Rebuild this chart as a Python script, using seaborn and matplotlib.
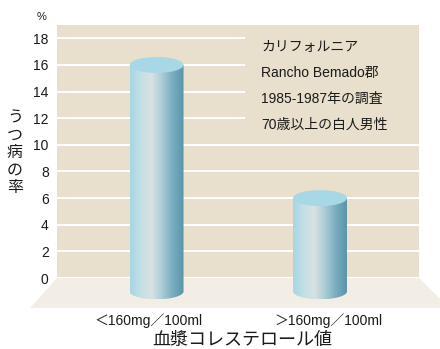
import numpy as np
import matplotlib
matplotlib.use("Agg")
import matplotlib.pyplot as plt
from matplotlib.patches import Polygon, Ellipse, Rectangle
from matplotlib.colors import LinearSegmentedColormap
import seaborn as sns

# ── data ──
categories = ["＜160mg／100ml", "＞160mg／100ml"]
rates = [16, 6]
y_ticks = list(range(0, 19, 2))
note_lines = ["カリフォルニア", "Rancho Bemado郡", "1985-1987年の調査", "70歳以上の白人男性"]

# ── style ──
WALL = "#e8dfcc"
FLOOR = "#f2eee6"
TOP = "#a8d8e6"
cyl_cmap = LinearSegmentedColormap.from_list(
    "cyl", ["#a6d6e4", "#c3dfe6", "#d8e2e3", "#a9cbd5", "#78acbf", "#5a94a9"])

sns.set_theme(style="white")
plt.rcParams["font.family"] = ["Liberation Sans", "Noto Sans CJK JP", "DejaVu Sans"]

fig = plt.figure(figsize=(4.4, 3.49), dpi=100)
ax = fig.add_axes([57 / 440, 41 / 349, 383 / 440, 283 / 349])
sns.barplot(x=categories, y=rates, width=0.33, color=TOP, ax=ax)
bars = [p for c in ax.containers for p in c]

x_left, x_right, y_top, y_bot = -0.609, 1.606, 19, -2.25
ax.set_xlim(x_left, 1.734)
ax.set_ylim(y_bot, y_top)

# back wall + floor
ax.add_patch(Rectangle((x_left, 0), x_right - x_left, y_top, facecolor=WALL,
                       edgecolor="none", zorder=0))
ax.add_patch(Polygon([(x_left, 0), (x_right, 0), (1.79, y_bot), (-0.774, y_bot)],
                     closed=True, facecolor=FLOOR, edgecolor="none", zorder=0.6,
                     clip_on=False))
ax.hlines(y_ticks, x_left, x_right, color="white", lw=1.5, zorder=0.5)
# box behind the note hides the grid
ax.add_patch(Rectangle((0.54, 11), x_right - 0.54, y_top - 11, facecolor=WALL,
                       edgecolor="none", zorder=0.7))

# turn the bars into cylinders
grad = np.linspace(0, 1, 256).reshape(1, -1)
ry = 0.6
base = -1.0
for p in bars:
    x0, w, h = p.get_x(), p.get_width(), p.get_height()
    p.set_visible(False)
    cx = x0 + w / 2
    t = np.linspace(np.pi, 2 * np.pi, 80)
    verts = [(x0, h)] + list(zip(cx + w / 2 * np.cos(t), base + ry * np.sin(t))) + [(x0 + w, h)]
    clip = Polygon(verts, closed=True, transform=ax.transData)
    im = ax.imshow(grad, cmap=cyl_cmap, aspect="auto", extent=(x0, x0 + w, base - ry, h),
                   zorder=2, interpolation="bilinear")
    im.set_clip_path(clip)
    ax.add_patch(Ellipse((cx, h), w, 2 * ry, facecolor=TOP, edgecolor="none", zorder=3))

for i, line in enumerate(note_lines):
    ax.text(0.64, 17.33 - i * 1.93, line, fontsize=10, va="center", ha="left",
            color="#1a1a1a", zorder=4)

ax.set_yticks(y_ticks)
ax.set_xticks([-0.05, 1.05], labels=categories)
ax.tick_params(axis="y", length=0, pad=6, labelsize=10, colors="#1a1a1a")
ax.tick_params(axis="x", length=0, pad=4, labelsize=10, colors="#1a1a1a")
ax.set_xlabel("")
ax.set_ylabel("")
for s in ax.spines.values():
    s.set_visible(False)
ax.set_facecolor("none")

fig.text(42 / 440, 1 - 17 / 349, "%", fontsize=8, ha="center", va="center", color="#1a1a1a")
fig.text(15 / 440, 1 - 153 / 349, "う\nつ\n病\nの\n率", fontsize=11.5, ha="center",
         va="center", linespacing=1.2, color="#1a1a1a")
fig.text(242 / 440, 1 - 341 / 349, "血漿コレステロール値", fontsize=13, ha="center",
         va="center", color="#1a1a1a")

fig.savefig("out.png", dpi=100)
